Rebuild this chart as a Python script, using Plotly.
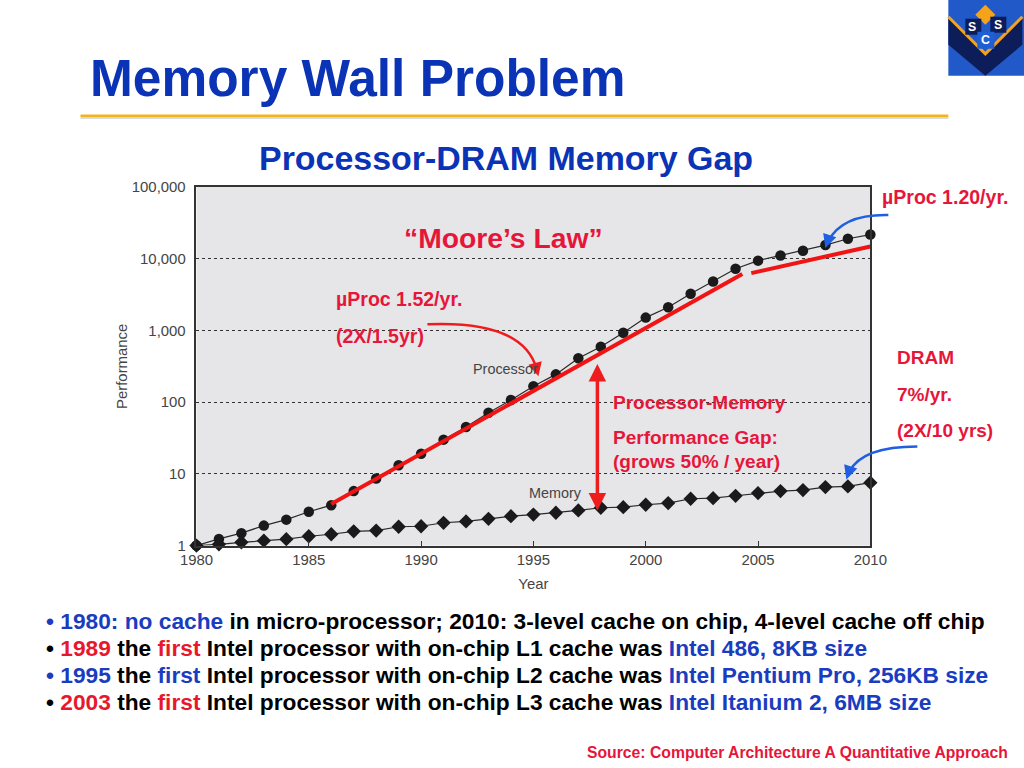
import plotly.graph_objects as go

# ---------------- data ----------------
years = list(range(1980, 2011))
processor_perf = [1, 1.24, 1.49, 1.9, 2.3, 2.96, 3.66, 5.75, 8.6, 13.2, 19.1, 30, 45, 71, 107, 167,
                  244, 409, 593, 930, 1510, 2100, 3240, 4800, 7240, 9400, 11100, 12900, 15500, 19000, 21700]
memory_perf = [1, 1.04, 1.11, 1.17, 1.23, 1.35, 1.44, 1.58, 1.62, 1.83, 1.86, 2.08, 2.17, 2.36, 2.57, 2.71,
               2.87, 3.09, 3.37, 3.43, 3.71, 3.91, 4.5, 4.59, 4.95, 5.39, 5.75, 5.94, 6.54, 6.68, 7.53]

trend_fast_years = [1986, 2004.3]
trend_fast_vals = [3.8, 6100]
trend_slow_years = [2004.7, 2010]
trend_slow_vals = [6300, 14800]

y_tickvals = [1, 10, 100, 1000, 10000, 100000]
y_ticktext = ["1", "10", "100", "1,000", "10,000", "100,000"]
x_tickvals = [1980, 1985, 1990, 1995, 2000, 2005, 2010]

# page -> photo mapping observed for this viewer (compensated so marks land where intended)
SX, OX, SY, OY = 0.968, 16.5, 0.978, 8.3
FW, FH = 1057, 785
FS = 1 / 0.972
FONT = "Liberation Sans, Arial, sans-serif"
BLUE = "#0a33b5"
RED = "#e6163a"
LRED = "#f01414"
ABLUE = "#1f5fe0"


def px(x):
    return ((x - OX) / SX) / FW


def py(y):
    return 1 - ((y - OY) / SY) / FH


def fs(s):
    return s * FS


fig = go.Figure()

fig.add_trace(go.Scatter(x=years, y=processor_perf, mode="lines+markers", name="Processor",
                         line=dict(color="#2a2a2a", width=1.2),
                         marker=dict(symbol="circle", size=10.5, color="#1a1a1a"),
                         cliponaxis=False, showlegend=False))
fig.add_trace(go.Scatter(x=years, y=memory_perf, mode="lines+markers", name="Memory",
                         line=dict(color="#2a2a2a", width=1.2),
                         marker=dict(symbol="diamond", size=11, color="#1a1a1a"),
                         cliponaxis=False, showlegend=False))
fig.add_trace(go.Scatter(x=trend_fast_years, y=trend_fast_vals, mode="lines",
                         line=dict(color=LRED, width=4), showlegend=False, cliponaxis=False))
fig.add_trace(go.Scatter(x=trend_slow_years, y=trend_slow_vals, mode="lines",
                         line=dict(color=LRED, width=4), showlegend=False, cliponaxis=False))

shapes = []
annotations = []

# title underline
shapes.append(dict(type="line", xref="paper", yref="paper", x0=px(80), x1=px(948), y0=py(116), y1=py(116),
                   line=dict(color="#f2b31c", width=3)))
shapes.append(dict(type="line", xref="paper", yref="paper", x0=px(80), x1=px(948), y0=py(118.5), y1=py(118.5),
                   line=dict(color="#d8d8d8", width=1)))


def curve(p0, c, p1, color, width):
    path = "M %f,%f Q %f,%f %f,%f" % (px(p0[0]), py(p0[1]), px(c[0]), py(c[1]), px(p1[0]), py(p1[1]))
    shapes.append(dict(type="path", xref="paper", yref="paper", path=path,
                       line=dict(color=color, width=width)))


def head(tip, ax, ay, color, width, side="end"):
    annotations.append(dict(x=px(tip[0]), y=py(tip[1]), xref="paper", yref="paper", text="",
                            showarrow=True, ax=ax, ay=ay, arrowhead=2, arrowsize=1.1,
                            arrowwidth=width, arrowcolor=color, arrowside=side))


# red curved arrow (µProc 1.52/yr -> Processor)
curve((427, 324), (522, 320), (536, 368), "#ee1c1c", 2.5)
head((538, 376), -3, -12, "#ee1c1c", 2.5)
# blue curved arrows
curve((888, 215), (842, 214), (828, 241), ABLUE, 2.5)
head((825, 248), 4, -12, ABLUE, 2.5)
curve((917, 446), (862, 446), (849, 471), ABLUE, 2.5)
head((846, 479), 4, -12, ABLUE, 2.5)
# double arrow showing the gap
annotations.append(dict(x=px(597), y=py(510), xref="paper", yref="paper", text="", showarrow=True,
                        ax=0, ay=-148, arrowhead=2, arrowsize=1, arrowwidth=3.5,
                        arrowcolor="#ee1c1c", arrowside="end+start", startarrowhead=2, startarrowsize=1))

# logo
shapes.append(dict(type="rect", xref="paper", yref="paper", x0=px(948), x1=px(1026), y0=py(-2), y1=py(76),
                   fillcolor="#2259c9", line=dict(width=0)))
shapes.append(dict(type="path", xref="paper", yref="paper",
                   path="M %f,%f L %f,%f L %f,%f L %f,%f L %f,%f L %f,%f Z" % (
                       px(948), py(18), px(985), py(55), px(1022), py(18), px(1022), py(45), px(985), py(76),
                       px(948), py(45)),
                   fillcolor="#0d1d5a", line=dict(width=0)))
shapes.append(dict(type="path", xref="paper", yref="paper",
                   path="M %f,%f L %f,%f L %f,%f" % (px(948), py(17), px(985), py(54), px(1022), py(17)),
                   line=dict(color="#f5a31a", width=3)))
shapes.append(dict(type="path", xref="paper", yref="paper",
                   path="M %f,%f L %f,%f L %f,%f L %f,%f Z" % (px(985), py(5), px(995), py(15), px(985), py(25),
                                                               px(975), py(15)),
                   fillcolor="#f5a31a", line=dict(width=0)))
for cx, cy in [(973, 27), (998, 25)]:
    shapes.append(dict(type="rect", xref="paper", yref="paper", x0=px(cx - 8), x1=px(cx + 8),
                       y0=py(cy + 8), y1=py(cy - 8), fillcolor="#0d1d5a", line=dict(width=0)))
shapes.append(dict(type="rect", xref="paper", yref="paper", x0=px(977), x1=px(994), y0=py(49), y1=py(32),
                   fillcolor="#1f5fd6", line=dict(width=0)))
for t, cx, cy in [("S", 972, 27), ("S", 998, 25), ("C", 985.5, 40.5)]:
    annotations.append(dict(x=px(cx), y=py(cy), xref="paper", yref="paper", text="<b>%s</b>" % t,
                            showarrow=False, font=dict(family=FONT, size=fs(12), color="white"),
                            xanchor="center", yanchor="middle"))


def txt(x, y, text, size, color, anchor="left", bold=True):
    annotations.append(dict(x=px(x), y=py(y), xref="paper", yref="paper",
                            text=("<b>%s</b>" % text) if bold else text, showarrow=False,
                            font=dict(family=FONT, size=fs(size), color=color),
                            xanchor=anchor, yanchor="middle", align="left"))


txt(88, 78, "Memory Wall Problem", 50, BLUE)
txt(506, 158, "Processor-DRAM Memory Gap", 33, BLUE, anchor="center")
txt(503, 238, "“Moore’s Law”", 27.5, RED, anchor="center")
txt(334, 299, "µProc 1.52/yr.", 19, RED)
txt(334, 336, "(2X/1.5yr)", 19, RED)
txt(471, 369, "Processor", 14, "#444444", bold=False)
txt(527, 492, "Memory", 14, "#444444", bold=False)
txt(611, 402, "Processor-Memory", 18.5, RED)
txt(611, 437, "Performance Gap:", 18.5, RED)
txt(611, 461, "(grows 50% / year)", 18.5, RED)
txt(880, 197, "µProc 1.20/yr.", 19, RED)
txt(895, 357, "DRAM", 18.5, RED)
txt(895, 394, "7%/yr.", 18.5, RED)
txt(895, 430, "(2X/10 yrs)", 18.5, RED)

B = "#1a3cc0"
R = "#e8182c"
K = "#000000"


def span(c, t):
    return "<span style='color:%s'>%s</span>" % (c, t)


bullets = [
    span(B, "• 1980: no cache") + span(K, " in micro-processor; 2010: 3-level cache on chip, 4-level cache off chip"),
    span(K, "• ") + span(R, "1989") + span(K, " the ") + span(R, "first") +
    span(K, " Intel processor with on-chip L1 cache was ") + span(B, "Intel 486, 8KB size"),
    span(B, "• 1995") + span(K, " the ") + span(B, "first") +
    span(K, " Intel processor with on-chip L2 cache was ") + span(B, "Intel Pentium Pro, 256KB size"),
    span(K, "• ") + span(R, "2003") + span(K, " the ") + span(R, "first") +
    span(K, " Intel processor with on-chip L3 cache was ") + span(B, "Intel Itanium 2, 6MB size"),
]
for i, b in enumerate(bullets):
    txt(44, 620 + i * 27, b, 22.1, K)

txt(1010, 752, "Source: Computer Architecture A Quantitative Approach", 15.3, RED, anchor="right")

fig.update_layout(
    width=FW, height=FH, autosize=False,
    margin=dict(l=0, r=0, t=0, b=0),
    paper_bgcolor="white", plot_bgcolor="#e6e6e8",
    font=dict(family=FONT, size=fs(14), color="#444444"),
    shapes=shapes, annotations=annotations,
    xaxis=dict(domain=[px(196), px(870)], range=[1980, 2010], tickvals=x_tickvals,
               ticks="inside", ticklen=5, tickcolor="#333333", showgrid=False,
               showline=True, linecolor="#333333", linewidth=1.6, mirror=True,
               tickfont=dict(size=fs(14.5), color="#444444"),
               title=dict(text="Year", font=dict(size=fs(14.5), color="#444444"), standoff=11)),
    yaxis=dict(domain=[py(545), py(187)], type="log", range=[0, 5], tickvals=y_tickvals, ticktext=y_ticktext,
               ticks="", showgrid=True, griddash="dot", gridcolor="#333333", gridwidth=1,
               showline=True, linecolor="#333333", linewidth=1.6, mirror=True, zeroline=False,
               ticklabelstandoff=6,
               tickfont=dict(size=fs(14.5), color="#444444"),
               title=dict(text="Performance", font=dict(size=fs(14.5), color="#444444"), standoff=1)),
)

fig.write_html("out.html", config={"displayModeBar": False},
               post_script="document.body.style.margin='0';document.body.style.padding='0';"
                           "document.body.style.overflow='hidden';")
